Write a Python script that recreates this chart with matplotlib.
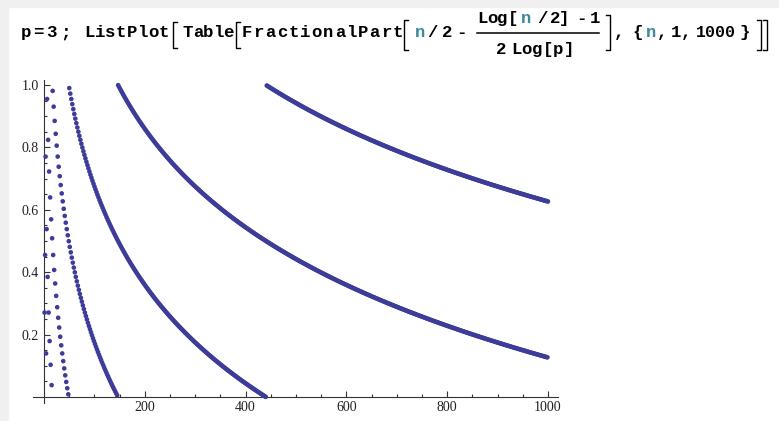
import numpy as np
import matplotlib
matplotlib.use("Agg")
import matplotlib.pyplot as plt
from matplotlib.lines import Line2D
from matplotlib.patches import Rectangle

W, H = 779, 421

# data: the values of the expression typed in the cell above the plot
p = 3
n = np.arange(1, 1001)
vals = np.mod(n / 2 - (np.log(n / 2) - 1) / (2 * np.log(p)), 1.0)

xticks = [200, 400, 600, 800, 1000]
yticks = [0.2, 0.4, 0.6, 0.8, 1.0]

dot_col = (0.24, 0.24, 0.6)
teal = "#3f8a9e"

fig = plt.figure(figsize=(W / 100, H / 100), dpi=100)
fig.patch.set_facecolor("white")

# light grey notebook margins
fig.patches.append(Rectangle((0, 1 - 7 / H), 1, 7 / H, transform=fig.transFigure,
                             color="#f0f0f0", zorder=0))
fig.patches.append(Rectangle((0, 0), 8 / W, 1, transform=fig.transFigure,
                             color="#f0f0f0", zorder=0))

##################################################
##              INPUT LINE (title)
##################################################

def px(x, y):
    return x / W, 1 - y / H

def put(s, x, y, col="black", size=12.5):
    fx, fy = px(x, y)
    fig.text(fx, fy, s, ha="center", va="baseline", color=col,
             family="Liberation Mono", weight="bold", fontsize=size)

def word(s, x0, x1, y, cols=None):
    step = (x1 - x0) / max(len(s) - 1, 1)
    for i, ch in enumerate(s):
        if ch == " ":
            continue
        c = cols[i] if cols else "black"
        put(ch, x0 + i * step, y, c)

def line(xs, ys, lw=1.0):
    fig.lines.append(Line2D([x / W for x in xs], [1 - y / H for y in ys],
                            transform=fig.transFigure, color="black", lw=lw))

def lbr(x, y0, y1):
    line([x + 4, x, x, x + 4], [y0, y0, y1, y1])

def rbr(x, y0, y1):
    line([x - 4, x, x, x - 4], [y0, y0, y1, y1])

base = 37
put("p", 26, base)
put("=", 38, base)
put("3", 51, base)
put(";", 65, base)
word("ListPlot", 89, 164, base)
lbr(173, 22, 48)
word("Table", 188, 228, base)
lbr(236, 22, 48)
word("FractionalPart", 247, 398, base)
lbr(404, 20, 50)
put("n", 420, base, teal)
put("/", 432.5, base)
put("2", 447, base)
put("-", 461, base)
# fraction
word("Log[", 482, 513, 23)
put("n", 526, 23, teal)
put("/", 542, 23)
put("2", 555, 23)
put("]", 564.5, 23)
put("-", 581.5, 23)
put("1", 595, 23)
line([477, 599], [33, 33], lw=1.1)
put("2", 501, 54)
word("Log[p]", 516, 569, 54)
rbr(610, 15, 50)
put(",", 618.5, base)
put("{", 637.5, base)
put("n", 651.5, base, teal)
put(",", 662, base)
put("1", 675.5, base)
put(",", 686, base)
put("1000", 716, base, size=12)
put("}", 745, base)
rbr(761, 20, 50)
rbr(767, 20, 50)

##################################################
##                  LISTPLOT
##################################################

left, right, top, bottom = 33, 558, 80, 403.25
ax = fig.add_axes([left / W, 1 - bottom / H, (right - left) / W, (bottom - top) / H])
ax.set_facecolor("none")
ax.scatter(n, vals, s=11, color=dot_col, edgecolors="none", zorder=3, clip_on=False)

ax.set_xlim(-22, 1020)
ax.set_ylim(-0.02, 1.016)
for side in ["top", "right"]:
    ax.spines[side].set_visible(False)
ax.spines["left"].set_position(("data", 0))
ax.spines["bottom"].set_position(("data", 0))
for side in ["left", "bottom"]:
    ax.spines[side].set_color("#333333")
    ax.spines[side].set_linewidth(0.8)

ax.set_xticks(xticks)
ax.set_xticklabels([str(t) for t in xticks])
ax.set_xticks(np.arange(50, 1001, 50), minor=True)
ax.set_yticks(yticks)
ax.set_yticklabels(["%.1f" % t for t in yticks])
ax.set_yticks(np.arange(0.05, 1.01, 0.05), minor=True)

ax.tick_params(which="both", direction="in", color="#333333", width=0.8)
ax.tick_params(which="major", length=4)
ax.tick_params(which="minor", length=2.2)
ax.tick_params(axis="x", which="major", pad=3)
ax.tick_params(axis="y", which="major", pad=4)
for lab in ax.get_xticklabels() + ax.get_yticklabels():
    lab.set_family("Liberation Serif")
    lab.set_fontsize(10)
    lab.set_color("#222222")

fig.savefig("out.png", dpi=100)
